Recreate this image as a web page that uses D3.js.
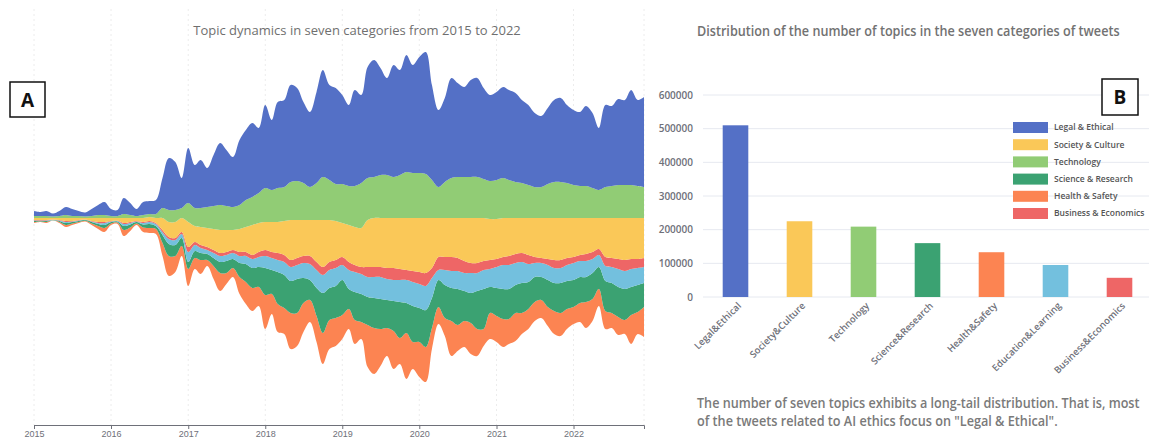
<!DOCTYPE html>
<html>
<head>
<meta charset="utf-8">
<script src="https://cdn.jsdelivr.net/npm/d3@7"></script>
<style>
  body { margin: 0; background: #fff; }
  svg { display: block; font-family: "Open Sans", "Noto Sans", sans-serif; }
</style>
</head>
<body>
<div id="chart"></div>
<script>
// monthly topic volume per category, Jan 2015 .. Dec 2022
var legal = [5,4,5,3,5,8,7,5,4,7,10,13, 7,6,16,12,7,13,13,14,30,52,48,30,
  55,43,48,39,51,62,56,50,65,70,74,65, 83,70,86,87,97,93,81,75,91,107,95,96,
  89,81,96,88,111,117,107,97,112,105,117,108, 116,122,95,77,84,100,94,90,97,99,91,86,
  88,91,90,89,83,80,74,71,76,82,84,78, 75,74,80,75,62,82,80,86,85,95,86,90];
var technology = [2,2,2,1.5,2,3,2,2,1.5,2,3,3, 2,2,4,3,2,3,3,4,10,12,12,10,
  19,18,19,21,23,25,24,23,24,27,28,30, 34,32,34,34,38,39,37,33,37,43,40,37,
  39,39,41,45,42,41,43,43,41,43,46,45, 45,44,38,31,36,40,41,41,41,41,39,38,
  39,40,38,36,35,33,31,31,34,36,36,35, 33,32,32,30,28,31,32,33,33,33,32,31];
var society = [2,2,2,1.5,2,3,3,2,1.5,3,4,4, 3,2.5,5,4,3,4,4,5,12,15,16,14,
  25,16,18,19,21,23,22,20,23,25,30,29, 28,30,31,34,40,38,36,36,42,47,42,39,
  34,37,38,39,47,49,49,50,50,51,52,53, 54,55,50,39,39,39,40,43,45,45,43,41,
  40,39,38,36,35,37,39,40,41,42,42,40, 39,37,36,34,31,39,40,41,42,41,41,40];
var business = [0.5,0.4,0.5,0.3,0.5,1,0.5,0.5,0.3,0.5,1,1, 0.5,0.5,1,1,0.5,1,1,1,2,2,2,2,
  5,3,3,3,3,3,3,3,4,4,4,5, 6,6,7,7,7,7,7,8,8,8,8,8,
  8,8,7,7,10,10,10,11,12,11,10,11, 12,13,10,13,13,14,13,12,10,10,9,9,
  8,8,9,9,9,9,6,5,6,8,8,7, 6,6,7,7,6,9,9,10,11,10,9,9];
var education = [0.5,0.4,0.5,0.2,0.5,1,0.5,0.5,0.3,0.5,1,2, 0.5,0.5,2,1.5,0.5,1.5,2,2,3,5,5,4,
  10,6,5,4,5,6,6,6,7,8,9,10, 12,12,12,13,14,14,15,16,18,18,18,18,
  15,19,20,20,20,21,22,21,21,22,23,24, 24,24,20,10,15,17,18,18,20,18,19,18,
  21,24,24,22,21,18,14,14,15,15,15,16, 17,16,16,14,12,15,16,18,18,18,17,16];
var science = [1,0.6,1,0.3,1,2,1.5,1,0.7,1.5,2,3, 1.5,1,4,3,1.5,3,4,3,8,12,11,8,
  7,7,7,6,8,11,12,9,14,18,20,20, 27,24,32,33,32,34,25,20,28,40,32,32,
  35,20,28,28,28,30,30,28,30,36,30,36, 34,37,30,27,33,33,36,30,30,38,40,26,
  28,30,30,28,30,27,25,23,27,28,30,28, 27,26,25,26,22,30,30,30,31,28,27,24];
var health = [1,0.6,1,0.2,1,2,1.5,1,0.7,1.5,3,4, 1.5,1.5,6,3.5,1.5,4.5,5,5,13,20,16,10,
  17,11,14,6,13,18,11,9,17,22,23,19, 34,20,28,26,36,33,29,22,26,31,29,28,
  24,20,24,17,42,46,37,28,38,26,46,27, 35,35,21,17,18,35,26,26,31,27,17,26,
  26,28,25,28,21,20,19,18,19,23,23,20, 17,19,26,22,17,18,15,18,14,29,22,30];

var years = ["2015","2016","2017","2018","2019","2020","2021","2022"];

// bar chart: total topics per category
var barCats = ["Legal&Ethical","Society&Culture","Technology","Science&Research",
  "Health&Safety","Education&Learning","Business&Economics"];
var barValues = [510000, 225000, 209000, 160000, 133000, 95000, 57000];
var barColors = ["#5470c6","#fac858","#91cc75","#3ba272","#fc8452","#73c0de","#ee6666"];
var yTicks = [0, 100000, 200000, 300000, 400000, 500000, 600000];

var legendNames = ["Legal & Ethical","Society & Culture","Technology",
  "Science & Research","Health & Safety","Business & Economics"];
var legendColors = ["#5470c6","#fac858","#91cc75","#3ba272","#fc8452","#ee6666"];

var W = 1149, H = 441;
var svg = d3.select("#chart").append("svg").attr("width", W).attr("height", H);

// squeeze a text horizontally so it spans the given width
function fitText(sel, tx, ty, width) {
  var n = sel.node().getComputedTextLength();
  sel.attr("transform", "translate(" + tx + "," + ty + ") scale(" + (width / n) + ",1)");
}

// ---------------- panel A : theme river ----------------
var streamKeys = ["legal","technology","society","business","education","science","health"];
var streamColors = {legal:"#5470c6", technology:"#91cc75", society:"#fac858",
  business:"#ee6666", education:"#73c0de", science:"#3ba272", health:"#fc8452"};
var series = {legal:legal, technology:technology, society:society, business:business,
  education:education, science:science, health:health};

var months = d3.timeMonth.range(new Date(2015, 0, 1), new Date(2023, 0, 1));
var table = months.map(function(d, i) {
  var row = {date: d};
  streamKeys.forEach(function(k) { row[k] = series[k][i]; });
  return row;
});

var x = d3.scaleTime().domain([months[0], months[months.length - 1]]).range([34, 644]);
var y = d3.scaleLinear().domain([-208, 208]).range([425, 9]);

// split lines
svg.append("g").selectAll("line")
  .data(months.filter(function(d) { return d.getMonth() == 0; }).concat([months[months.length - 1]]))
  .enter().append("line")
    .attr("x1", function(d) { return x(d); }).attr("x2", function(d) { return x(d); })
    .attr("y1", 9).attr("y2", 425)
    .style("stroke", "#ececec").style("stroke-dasharray", "2,3");

var stack = d3.stack().keys(streamKeys.slice().reverse()).offset(d3.stackOffsetSilhouette);
var layers = stack(table);

var area = d3.area()
  .x(function(d) { return x(d.data.date); })
  .y0(function(d) { return y(d[0]); })
  .y1(function(d) { return y(d[1]); })
  .curve(d3.curveCatmullRom.alpha(0.5));

svg.append("g").selectAll("path").data(layers).enter().append("path")
  .attr("d", area)
  .style("fill", function(d) { return streamColors[d.key]; })
  .style("stroke", "none");

var xAxis = svg.append("g")
  .attr("transform", "translate(0,425)")
  .call(d3.axisBottom(x).ticks(d3.timeYear).tickFormat(d3.timeFormat("%Y")).tickSize(4).tickPadding(2));
xAxis.select(".domain").style("stroke", "#6e7079");
xAxis.selectAll(".tick line").style("stroke", "#6e7079");
xAxis.selectAll(".tick text").style("fill", "#6e7079").style("font-size", "9px");

var titleA = svg.append("text")
  .attr("text-anchor", "middle")
  .style("font-size", "13px").style("fill", "#6f6f6f")
  .text("Topic dynamics in seven categories from 2015 to 2022");
fitText(titleA, 357, 35, 328);

// panel label A
svg.append("rect").attr("x", 10).attr("y", 82).attr("width", 35).attr("height", 35)
  .style("fill", "#fff").style("stroke", "#111").style("stroke-width", 1.5);
svg.append("text").attr("x", 27.5).attr("y", 107).attr("text-anchor", "middle")
  .style("font-size", "19px").style("font-weight", "700").style("fill", "#111").text("A");

// ---------------- panel B : bar chart ----------------
var xb = d3.scaleBand().domain(barCats).range([703.5, 1151.5]).paddingInner(0.6).paddingOuter(0.3);
var yb = d3.scaleLinear().domain([0, 600000]).range([297, 95]);

svg.append("g").selectAll("line").data(yTicks).enter().append("line")
  .attr("x1", 703).attr("x2", W)
  .attr("y1", function(d) { return yb(d); }).attr("y2", function(d) { return yb(d); })
  .style("stroke", "#e6e9f0");

svg.append("g").selectAll("text").data(yTicks).enter().append("text")
  .attr("x", 693).attr("y", function(d) { return yb(d); }).attr("dy", "0.35em")
  .attr("text-anchor", "end")
  .style("font-size", "10px").style("font-weight", "600").style("fill", "#6e7079")
  .text(function(d) { return d; });

svg.append("g").selectAll("rect").data(barCats).enter().append("rect")
  .attr("x", function(d) { return xb(d); })
  .attr("width", xb.bandwidth())
  .attr("y", function(d, i) { return yb(barValues[i]); })
  .attr("height", function(d, i) { return yb(0) - yb(barValues[i]); })
  .style("fill", function(d, i) { return barColors[i]; });

svg.append("g").selectAll("text").data(barCats).enter().append("text")
  .attr("transform", function(d) {
    return "translate(" + (xb(d) + xb.bandwidth() / 2 + 4) + ",304) rotate(-45)";
  })
  .attr("text-anchor", "end").attr("dy", "0.35em")
  .style("font-size", "9.5px").style("font-weight", "600").style("fill", "#6e7079")
  .text(function(d) { return d; });

var titleB = svg.append("text")
  .style("font-size", "13.5px").style("font-weight", "600").style("fill", "#727272")
  .text("Distribution of the number of topics in the seven categories of tweets");
fitText(titleB, 697, 36, 423);

// legend
var legend = svg.append("g").selectAll("g").data(legendNames).enter().append("g")
  .attr("transform", function(d, i) { return "translate(1013," + (127.5 + i * 17.2) + ")"; });
legend.append("rect").attr("x", 0).attr("y", -5.5).attr("width", 35).attr("height", 11)
  .style("fill", function(d, i) { return legendColors[i]; });
legend.append("text").attr("x", 41).attr("dy", "0.35em")
  .style("font-size", "8.5px").style("font-weight", "600").style("fill", "#555")
  .text(function(d) { return d; });

// panel label B
svg.append("rect").attr("x", 1102).attr("y", 79).attr("width", 36).attr("height", 36)
  .style("fill", "#fff").style("stroke", "#111").style("stroke-width", 1.5);
svg.append("text").attr("x", 1120).attr("y", 104).attr("text-anchor", "middle")
  .style("font-size", "19px").style("font-weight", "700").style("fill", "#111").text("B");

// caption
var cap1 = svg.append("text")
  .style("font-size", "14px").style("font-weight", "600").style("fill", "#7a7a7a")
  .text("The number of seven topics exhibits a long-tail distribution. That is, most");
fitText(cap1, 697, 408, 443);
var cap2 = svg.append("text")
  .style("font-size", "14px").style("font-weight", "600").style("fill", "#7a7a7a")
  .text("of the tweets related to AI ethics focus on \"Legal & Ethical\".");
fitText(cap2, 697, 426, 361);
</script>
</body>
</html>
